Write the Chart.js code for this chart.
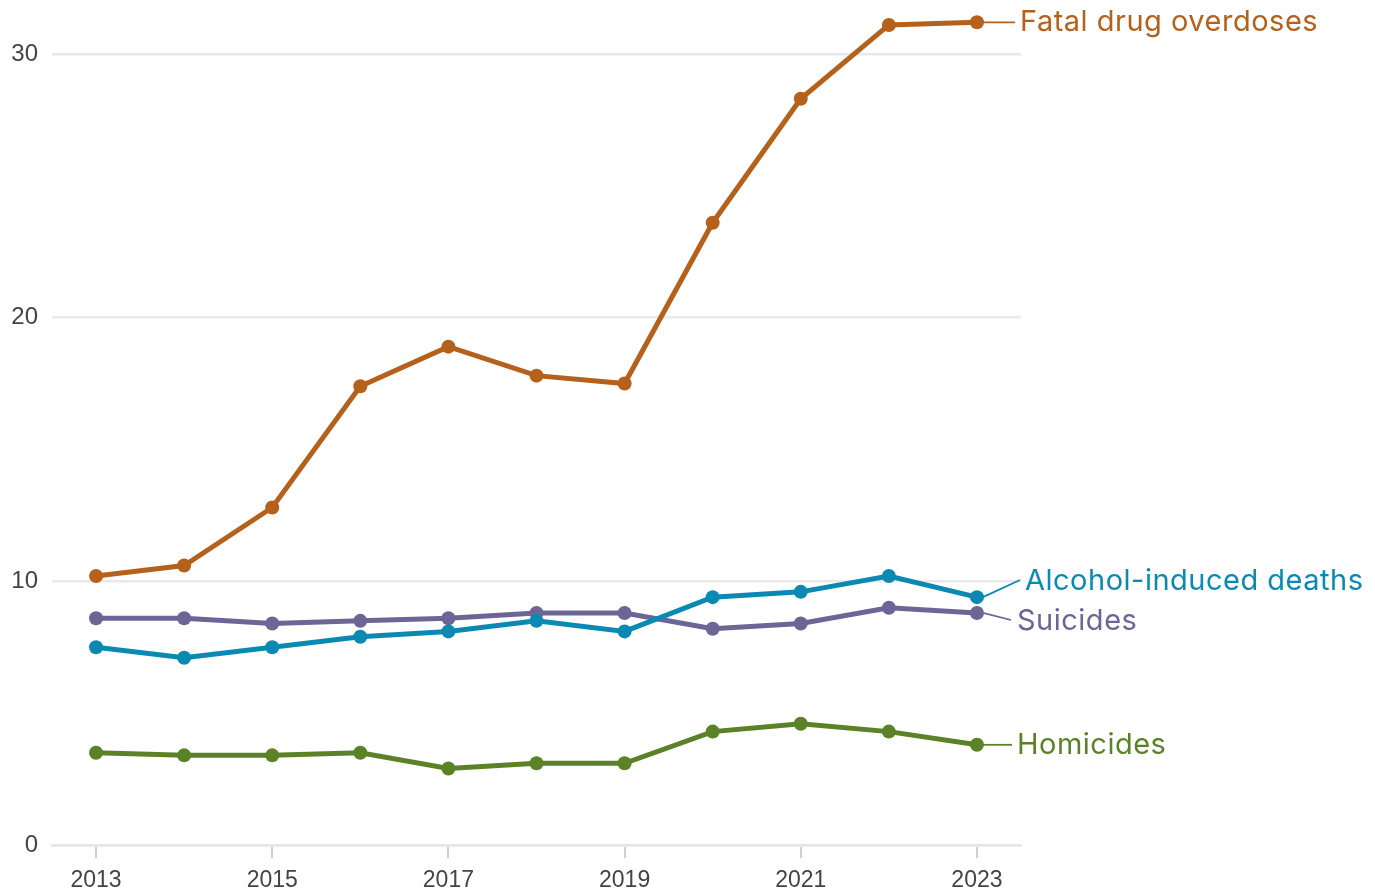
<!DOCTYPE html>
<html>
<head>
<meta charset="utf-8">
<script src="https://cdn.jsdelivr.net/npm/chart.js@4"></script>
<style>
  html, body { margin: 0; padding: 0; background: #fff; }
  #wrap { position: relative; width: 1375px; height: 892px; }
</style>
</head>
<body>
<div id="wrap"><canvas id="chart" width="1375" height="892"></canvas></div>
<script>
// deaths per 100,000
const years = [2013, 2014, 2015, 2016, 2017, 2018, 2019, 2020, 2021, 2022, 2023];
const overdoses = [10.2, 10.6, 12.8, 17.4, 18.9, 17.8, 17.5, 23.6, 28.3, 31.1, 31.2];
const alcohol   = [7.5, 7.1, 7.5, 7.9, 8.1, 8.5, 8.1, 9.4, 9.6, 10.2, 9.4];
const suicides  = [8.6, 8.6, 8.4, 8.5, 8.6, 8.8, 8.8, 8.2, 8.4, 9.0, 8.8];
const homicides = [3.5, 3.4, 3.4, 3.5, 2.9, 3.1, 3.1, 4.3, 4.6, 4.3, 3.8];
const xTicks = [2013, 2015, 2017, 2019, 2021, 2023];
const yTicks = [0, 10, 20, 30];

const C = {
  overdoses: "#b5601b",
  alcohol: "#0a8ab2",
  suicides: "#6c6596",
  homicides: "#5c8227",
};

// end labels: text position + where the thin connector ends (null = follow the point)
const endLabels = [
  { text: "Fatal drug overdoses", color: C.overdoses, ds: 0, lx: 1020, ly: null, cx: 1015, cy: null },
  { text: "Alcohol-induced deaths", color: C.alcohol, ds: 1, lx: 1025, ly: 581, cx: 1020, cy: 580 },
  { text: "Suicides", color: C.suicides, ds: 2, lx: 1017, ly: 621, cx: 1011, cy: 620 },
  { text: "Homicides", color: C.homicides, ds: 3, lx: 1017, ly: null, cx: 1012, cy: null },
];

const labelPlugin = {
  id: "endLabels",
  afterDatasetsDraw(chart) {
    const ctx = chart.ctx;
    ctx.save();
    endLabels.forEach((l) => {
      const meta = chart.getDatasetMeta(l.ds);
      const p = meta.data[meta.data.length - 1];
      const cy = l.cy == null ? p.y : l.cy;
      const ly = l.ly == null ? p.y : l.ly;
      ctx.strokeStyle = l.color;
      ctx.lineWidth = 1.8;
      ctx.beginPath();
      ctx.moveTo(p.x + 6, p.y);
      ctx.lineTo(l.cx, cy);
      ctx.stroke();
      ctx.fillStyle = l.color;
      ctx.font = "29px Inter, 'Noto Sans', sans-serif";
      ctx.letterSpacing = "0.5px";
      ctx.textBaseline = "middle";
      ctx.textAlign = "left";
      ctx.fillText(l.text, l.lx, ly);
    });
    ctx.restore();
  },
};

function series(label, data, color) {
  return {
    label,
    data: data.map((v, i) => ({ x: years[i], y: v })),
    borderColor: color,
    backgroundColor: color,
    borderWidth: 5,
    pointRadius: 7,
    pointHoverRadius: 7,
    pointBorderWidth: 0,
    tension: 0,
    clip: false,
  };
}

new Chart(document.getElementById("chart"), {
  type: "line",
  data: {
    datasets: [
      series("Fatal drug overdoses", overdoses, C.overdoses),
      series("Alcohol-induced deaths", alcohol, C.alcohol),
      series("Suicides", suicides, C.suicides),
      series("Homicides", homicides, C.homicides),
    ],
  },
  options: {
    responsive: false,
    animation: false,
    layout: { padding: { top: 0, right: 354, left: 0, bottom: 0 } },
    plugins: { legend: { display: false }, tooltip: { enabled: false } },
    scales: {
      x: {
        type: "linear",
        min: 2012.5,
        max: 2023.5,
        afterBuildTicks: (s) => { s.ticks = xTicks.map((v) => ({ value: v })); },
        afterFit: (s) => { s.height = 47; s.paddingLeft = 0; s.paddingRight = 0; },
        grid: { drawOnChartArea: false, color: "#cfcfcf", lineWidth: 2, tickLength: 13 },
        border: { display: true, color: "#e6e6e6", width: 2.5 },
        ticks: { color: "#444", font: { family: "'Liberation Sans', Arial, sans-serif", size: 23 }, padding: 9, callback: (v) => String(v), maxRotation: 0 },
      },
      y: {
        min: 0,
        max: 31.78,
        afterBuildTicks: (s) => { s.ticks = yTicks.map((v) => ({ value: v })); },
        afterFit: (s) => { s.width = 52; s.paddingTop = 0; s.paddingBottom = 0; },
        grid: { color: "#e9e9e9", lineWidth: 2.5, drawTicks: false },
        border: { display: false },
        ticks: { color: "#444", font: { family: "'Liberation Sans', Arial, sans-serif", size: 24 }, padding: 14 },
      },
    },
  },
  plugins: [labelPlugin],
});
</script>
</body>
</html>
